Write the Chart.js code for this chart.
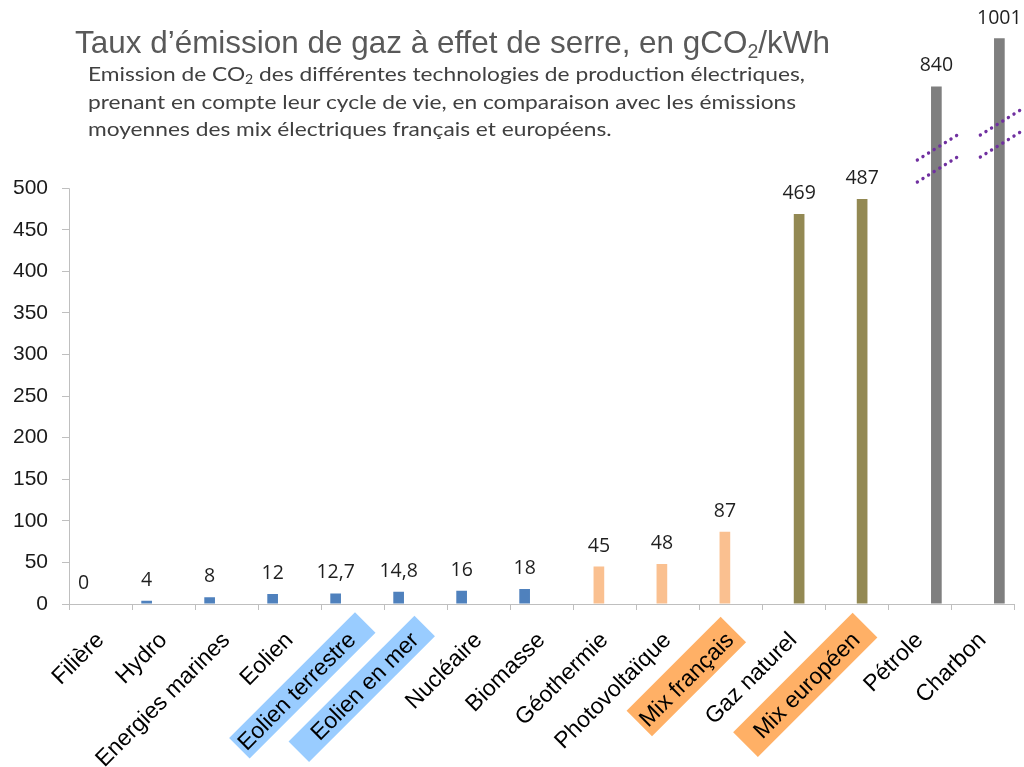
<!DOCTYPE html>
<html><head><meta charset="utf-8">
<script src="https://cdn.jsdelivr.net/npm/chart.js@4.4.1/dist/chart.umd.min.js"></script>
<style>
html,body{margin:0;padding:0;background:#fff;width:1024px;height:767px;overflow:hidden}
#wrap{position:relative;width:1024px;height:767px}
canvas{position:absolute;left:0;top:0}
#title{position:absolute;left:75px;top:24px;font-family:'Liberation Sans Narrow','Arial Narrow',sans-serif;font-size:32px;color:#595959;white-space:nowrap;transform-origin:0 0;line-height:36px}
#sub{position:absolute;left:88px;top:60px;font-family:Lato,'Open Sans',sans-serif;font-size:20px;line-height:27.5px;color:#404040;white-space:nowrap;transform-origin:0 0}
sub{font-size:0.62em;vertical-align:-0.25em;line-height:0}
</style></head>
<body><div id="wrap"><canvas id="c" width="1024" height="767"></canvas>
<div id="title">Taux d’émission de gaz à effet de serre, en gCO<sub>2</sub>/kWh</div>
<div id="sub">Emission de CO<sub>2</sub> des différentes technologies de production électriques,<br>prenant en compte leur cycle de vie, en comparaison avec les émissions<br>moyennes des mix électriques français et européens.</div>
</div>
<script>
// ---- data ----
const categories = ['Filière','Hydro','Energies marines','Eolien','Eolien terrestre','Eolien en mer','Nucléaire','Biomasse','Géothermie','Photovoltaïque','Mix français','Gaz naturel','Mix européen','Pétrole','Charbon'];
const renouvelables = [0, 4, 8, 12, 12.7, 14.8, 16, 18, null, null, null, null, null, null, null];
const moyens = [null, null, null, null, null, null, null, null, 45, 48, 87, null, null, null, null];
const gazMix = [null, null, null, null, null, null, null, null, null, null, null, 469, 487, null, null];
const fossiles = [null, null, null, null, null, null, null, null, null, null, null, null, null, 840, 1001];
const yTicks = [0, 50, 100, 150, 200, 250, 300, 350, 400, 450, 500];
const highlightBlue = ['Eolien terrestre', 'Eolien en mer'];
const highlightOrange = ['Mix français', 'Mix européen'];

// ---- broken axis settings ----
const AXIS_BREAK = 500;
const BREAK_COMPRESS = 0.36;
const Y_MAX = 1040;

// fit title widths
function fitWidth(id, target){
  const el = document.getElementById(id);
  const w = el.getBoundingClientRect().width;
  el.style.transform = 'scaleX(' + (target / w) + ')';
}
fitWidth('title', 755);
fitWidth('sub', 717);

class BrokenLinearScale extends Chart.LinearScale {
  _mapV(v){ return v <= AXIS_BREAK ? v : AXIS_BREAK + (v - AXIS_BREAK) * BREAK_COMPRESS; }
  getPixelForValue(value){
    const lo = this._mapV(this.min), hi = this._mapV(this.max);
    const t = (this._mapV(value) - lo) / (hi - lo);
    return this.bottom - t * (this.bottom - this.top);
  }
  getValueForPixel(pixel){
    const lo = this._mapV(this.min), hi = this._mapV(this.max);
    const m = lo + (this.bottom - pixel) / (this.bottom - this.top) * (hi - lo);
    return m <= AXIS_BREAK ? m : AXIS_BREAK + (m - AXIS_BREAK) / BREAK_COMPRESS;
  }
}
BrokenLinearScale.id = 'brokenLinear';
BrokenLinearScale.defaults = Chart.LinearScale.defaults;
Chart.register(BrokenLinearScale);

const fmt = v => String(v).replace('.', ',');

const highlightStyles = {
  'Eolien terrestre': {color:'#99CCFF', len:178, w:29, end:-4, s:22},
  'Eolien en mer':    {color:'#99CCFF', len:178, w:29, end:-9, s:22},
  'Mix français':     {color:'#FFB066', len:133, w:36, end:-16, s:20},
  'Mix européen':     {color:'#FFB066', len:169, w:35, end:-9, s:21}
};

const highlightPlugin = {
  id: 'highlight',
  beforeDraw(chart){
    const ctx = chart.ctx, xs = chart.scales.x;
    highlightBlue.concat(highlightOrange).forEach(lbl => {
      const i = categories.indexOf(lbl);
      const st = highlightStyles[lbl];
      const x = xs.getPixelForTick(i);
      ctx.save();
      ctx.translate(x, xs.top);
      ctx.rotate(-Math.PI / 4);
      ctx.fillStyle = st.color;
      ctx.fillRect(st.end - st.len, st.s - st.w / 2, st.len, st.w);
      ctx.restore();
    });
  }
};

const axisLinePlugin = {
  id: 'axisLine',
  afterDraw(chart){
    const ctx = chart.ctx, ys = chart.scales.y;
    const x = chart.chartArea.left;
    ctx.save();
    ctx.strokeStyle = '#BFBFBF';
    ctx.lineWidth = 1;
    ctx.beginPath();
    ctx.moveTo(x + 0.5, ys.getPixelForValue(0));
    ctx.lineTo(x + 0.5, ys.getPixelForValue(AXIS_BREAK));
    ctx.stroke();
    ctx.restore();
  }
};

const valueLabelPlugin = {
  id: 'valueLabels',
  afterDatasetsDraw(chart){
    const ctx = chart.ctx;
    ctx.save();
    ctx.font = '19.5px "Open Sans", sans-serif';
    ctx.fillStyle = '#1f1f1f';
    ctx.textAlign = 'center';
    ctx.textBaseline = 'alphabetic';
    chart.data.datasets.forEach((ds, di) => {
      const meta = chart.getDatasetMeta(di);
      ds.data.forEach((v, i) => {
        if (v === null || v === undefined) return;
        const el = meta.data[i];
        let y = el.y - 15;
        if (y < 24) y = 24;
        ctx.fillText(fmt(v), el.x, y);
      });
    });
    ctx.restore();
  }
};

const breakMarkPlugin = {
  id: 'breakMarks',
  afterDatasetsDraw(chart){
    const ctx = chart.ctx;
    const meta = chart.getDatasetMeta(3);
    const marks = [{i:13, y:171}, {i:14, y:146}];
    ctx.save();
    ctx.strokeStyle = '#7030A0';
    ctx.lineWidth = 3.4;
    ctx.lineCap = 'round';
    ctx.setLineDash([0.01, 6.6]);
    marks.forEach(m => {
      const el = meta.data[m.i];
      [0, -22].forEach(off => {
        ctx.beginPath();
        ctx.moveTo(el.x - 19, m.y + off + 11);
        ctx.lineTo(el.x + 21, m.y + off - 14);
        ctx.stroke();
      });
    });
    ctx.restore();
  }
};

const barOpts = {categoryPercentage: 0.714, barPercentage: 0.95};
new Chart(document.getElementById('c'), {
  type: 'bar',
  data: {
    labels: categories,
    datasets: [
      Object.assign({label:'Renouvelables', data: renouvelables, backgroundColor:'#4F81BD'}, barOpts),
      Object.assign({label:'Moyens', data: moyens, backgroundColor:'#FAC090'}, barOpts),
      Object.assign({label:'Gaz', data: gazMix, backgroundColor:'#938953'}, barOpts),
      Object.assign({label:'Fossiles', data: fossiles, backgroundColor:'#7F7F7F'}, barOpts)
    ]
  },
  options: {
    responsive: false,
    animation: false,
    devicePixelRatio: 1,
    layout: {padding: {top: 25, right: 10, left: 0, bottom: 0}},
    plugins: {legend: {display: false}, tooltip: {enabled: false}},
    scales: {
      x: {
        offset: true,
        grid: {display: true, offset: true, drawOnChartArea: false, tickLength: 6, color: '#BFBFBF'},
        border: {display: true, color: '#BFBFBF'},
        ticks: {autoSkip: false, minRotation: 45, maxRotation: 45, padding: 17, color: '#000',
          font: {family: '"Liberation Sans", Arial, sans-serif', size: 23}},
        afterFit: s => { s.height = 163; }
      },
      y: {
        type: 'brokenLinear',
        min: 0, max: Y_MAX,
        afterBuildTicks: s => { s.ticks = yTicks.map(v => ({value: v})); },
        afterFit: s => { s.width = 69; },
        border: {display: false},
        grid: {drawOnChartArea: false, tickLength: 7, color: '#BFBFBF'},
        ticks: {padding: 14, color: '#1a1a1a', font: {family: '"Liberation Sans", Arial, sans-serif', size: 21}}
      }
    }
  },
  plugins: [highlightPlugin, axisLinePlugin, valueLabelPlugin, breakMarkPlugin]
});
</script>
</body></html>
